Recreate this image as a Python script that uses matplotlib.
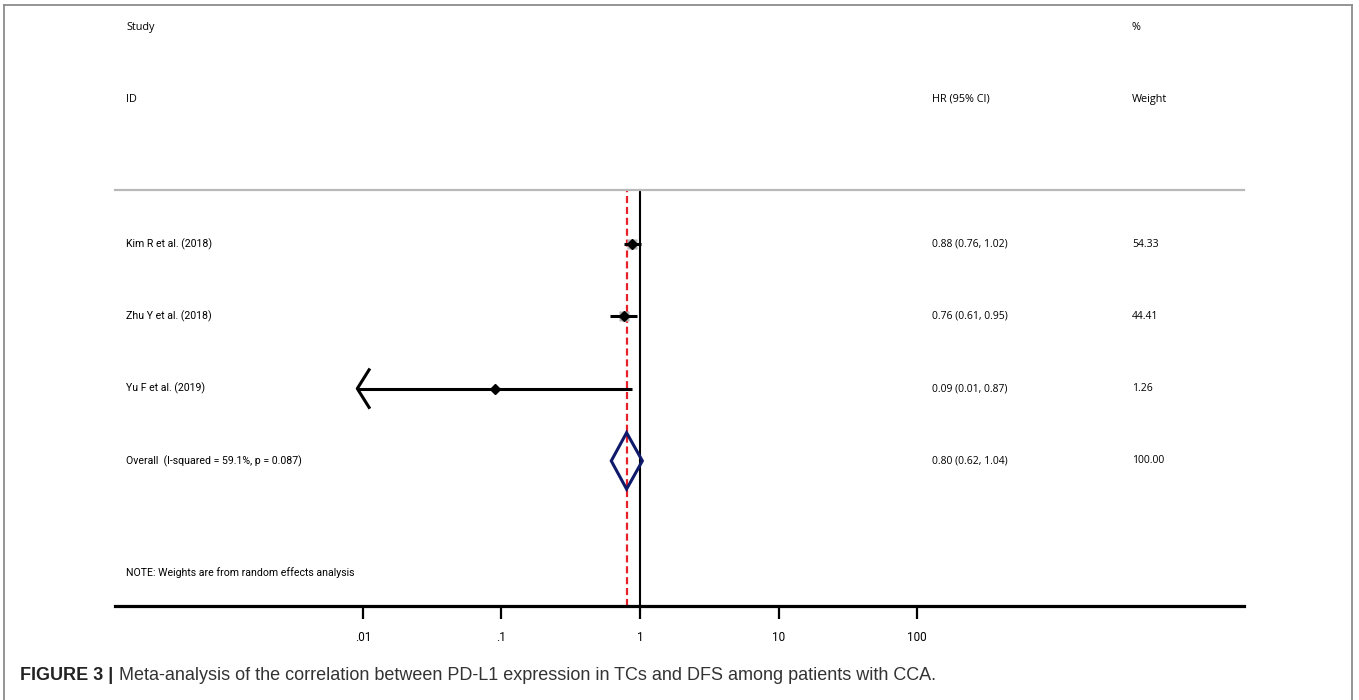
import matplotlib.pyplot as plt
from matplotlib.lines import Line2D
import numpy as np

studies = ['Kim R et al. (2018)', 'Zhu Y et al. (2018)', 'Yu F et al. (2019)']
hr = [0.88, 0.76, 0.09]
ci_lo = [0.76, 0.61, 0.0091]
ci_hi = [1.02, 0.95, 0.87]
weights = [54.33, 44.41, 1.26]

overall_label = 'Overall  (I-squared = 59.1%, p = 0.087)'
overall_hr, overall_lo, overall_hi = 0.80, 0.62, 1.04
overall_weight = 100.00

ticks = [0.01, 0.1, 1, 10, 100]
tick_labels = ['.01', '.1', '1', '10', '100']

# lower x limit of the plotted region; CIs reaching it get an arrow
x_clip = 0.0091

W, H = 1359, 700
fig = plt.figure(figsize=(W / 100, H / 100), dpi=100)

narrow = ['Liberation Sans Narrow', 'Roboto', 'DejaVu Sans']
regular = ['Open Sans', 'DejaVu Sans']

ax = fig.add_axes([115 / W, 1 - 606 / H, (1244 - 115) / W, (606 - 190) / H])
ax.set_xscale('log')
ax.set_xlim(10 ** -3.79, 10 ** 4.36)
ax.set_ylim(6.007, 0.253)

for s in ['left', 'right']:
    ax.spines[s].set_visible(False)
ax.spines['top'].set_color('#b8b8b8')
ax.spines['top'].set_linewidth(1.6)
ax.spines['bottom'].set_linewidth(2.3)
ax.set_yticks([])
ax.set_xticks(ticks)
ax.set_xticklabels(tick_labels, family=narrow, fontsize=8.5)
ax.minorticks_off()
ax.tick_params(axis='x', length=9, width=1.6, pad=9)

ax.axvline(1, color='black', lw=1.5, zorder=1)
ax.axvline(overall_hr, color='#e8202a', lw=1.6, ls=(0, (3.2, 1.7)), zorder=2)

rows = np.arange(1, len(studies) + 1)
for y, h, lo, hi, w in zip(rows, hr, ci_lo, ci_hi, weights):
    ax.plot([h], [y], marker='s', ms=1.0 * np.sqrt(w), color='#b5b5b5',
            mec='none', zorder=3)
    ax.plot([max(lo, x_clip), hi], [y, y], color='black', lw=2.2,
            solid_capstyle='butt', zorder=4)
    ax.plot([h], [y], marker='D', ms=5, color='black', zorder=5)
    if lo <= x_clip:
        k = 10 ** 0.085
        ax.plot([x_clip * k, x_clip, x_clip * k], [y - 0.26, y, y + 0.26],
                color='black', lw=2.2, zorder=4)

# pooled estimate diamond
yo = len(studies) + 1
ax.fill([overall_lo, overall_hr, overall_hi, overall_hr, overall_lo],
        [yo, yo - 0.39, yo, yo + 0.39, yo], facecolor='none',
        edgecolor='#0f1a6b', lw=2.2, zorder=6)

# table columns: x in axes fraction, y in row units
def col(x_px):
    return (x_px - 115) / (1244 - 115)

x_id, x_hr, x_wt = col(126), col(932), col(1132)
tr = ax.get_yaxis_transform()
for y, name, h, lo, hi, w in zip(rows, studies, hr, ci_lo, ci_hi, weights):
    ax.text(x_id, y, name, transform=tr, va='center', family=narrow, fontsize=7.6)
    ax.text(x_hr, y, f'{h:.2f} ({lo:.2f}, {hi:.2f})', transform=tr,
            va='center', family=regular, fontsize=7.5)
    ax.text(x_wt, y, f'{w:.2f}', transform=tr, va='center',
            family=regular, fontsize=7.5)

ax.text(x_id, yo, overall_label, transform=tr, va='center', family=narrow, fontsize=7.6)
ax.text(x_hr, yo, f'{overall_hr:.2f} ({overall_lo:.2f}, {overall_hi:.2f})',
        transform=tr, va='center', family=regular, fontsize=7.5)
ax.text(x_wt, yo, f'{overall_weight:.2f}', transform=tr, va='center',
        family=regular, fontsize=7.5)

ax.text(x_id, 5.54, 'NOTE: Weights are from random effects analysis',
        transform=tr, va='center', family=narrow, fontsize=7.6)

headers = [(x_id, -2.0, 'Study'), (x_id, -1.0, 'ID'), (x_hr, -1.0, 'HR (95% CI)'),
           (x_wt, -2.0, '%'), (x_wt, -1.0, 'Weight')]
for xa, y, t in headers:
    ax.text(xa, y, t, transform=tr, va='center', family=regular,
            fontsize=7.8, clip_on=False)

# panel frame (open at the bottom)
fc = '#8c8c8c'
fig.add_artist(Line2D([4 / W, 4 / W], [0, 1 - 5 / H], color=fc, lw=1.3))
fig.add_artist(Line2D([4 / W, 1352 / W], [1 - 5 / H, 1 - 5 / H], color=fc, lw=1.3))
fig.add_artist(Line2D([1352 / W, 1352 / W], [0, 1 - 5 / H], color=fc, lw=1.3))

# caption
cap_y = 1 - 676 / H
t1 = fig.text(20 / W, cap_y, 'FIGURE 3 |', fontsize=13, weight='bold',
              family='Liberation Sans', va='center', color='#222222')
fig.canvas.draw()
bb = t1.get_window_extent()
fig.text((bb.x1 + 6) / W, cap_y,
         'Meta-analysis of the correlation between PD-L1 expression in TCs and DFS among patients with CCA.',
         fontsize=13, family='Liberation Sans', va='center', color='#333333')

fig.savefig('out.png', dpi=100)
